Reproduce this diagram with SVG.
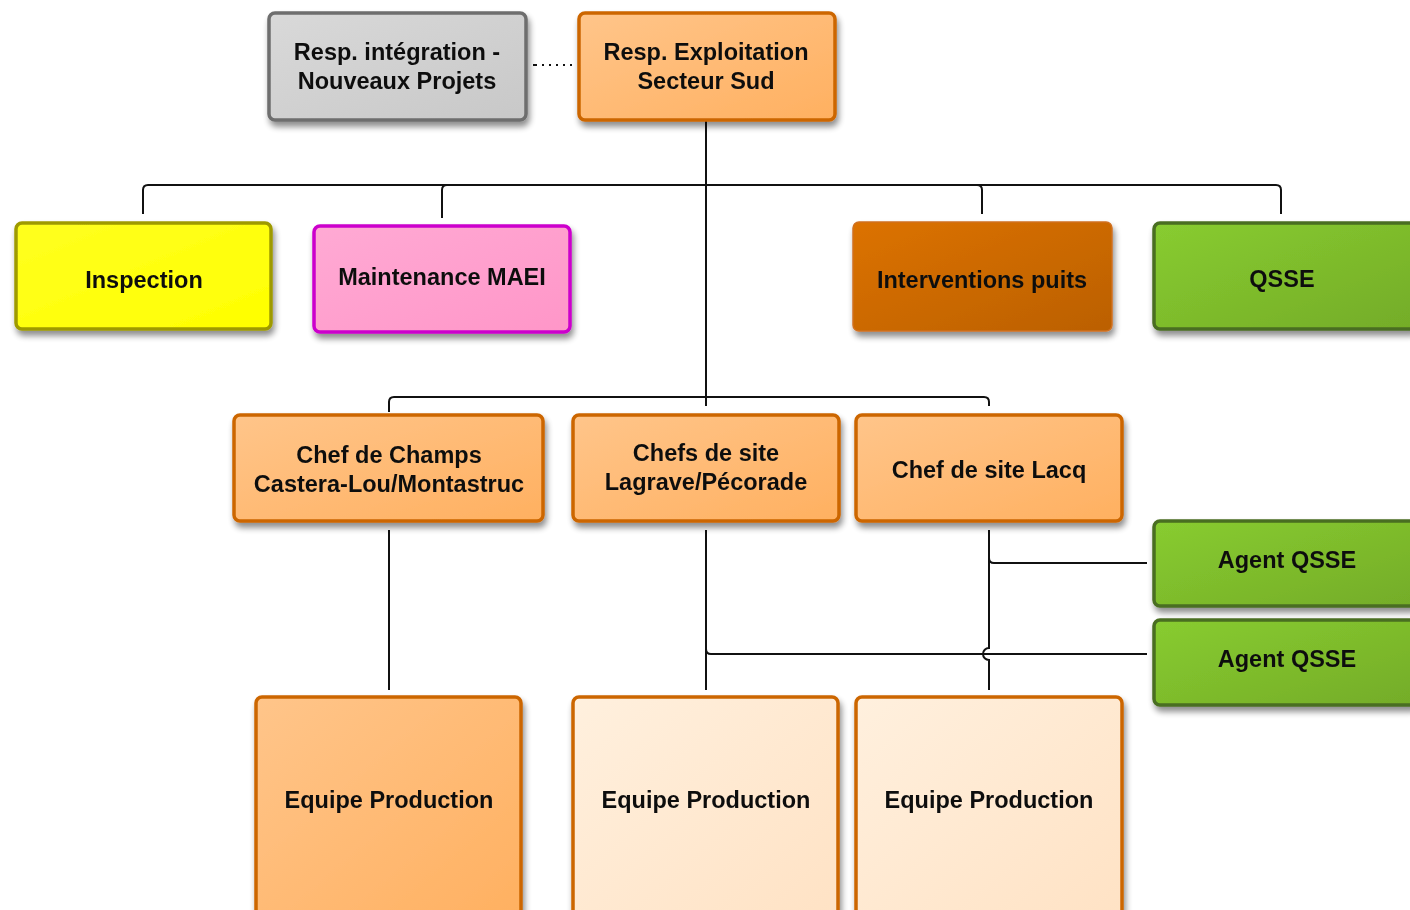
<svg xmlns="http://www.w3.org/2000/svg" width="1410" height="910" viewBox="0 0 1410 910">
<defs>
<filter id="sh" x="-10%" y="-10%" width="125%" height="130%">
<feGaussianBlur in="SourceAlpha" stdDeviation="3"/>
<feOffset dx="2" dy="5" result="b"/>
<feComponentTransfer><feFuncA type="linear" slope="0.45"/></feComponentTransfer>
<feMerge><feMergeNode/><feMergeNode in="SourceGraphic"/></feMerge>
</filter>
<linearGradient id="gOr" x1="0" y1="0" x2="1" y2="1"><stop offset="0" stop-color="#ffc58a"/><stop offset="1" stop-color="#ffb060"/></linearGradient>
<linearGradient id="gLt" x1="0" y1="0" x2="1" y2="1"><stop offset="0" stop-color="#fff0de"/><stop offset="1" stop-color="#ffe2c4"/></linearGradient>
<linearGradient id="gGr" x1="0" y1="0" x2="1" y2="1"><stop offset="0" stop-color="#d9d9d9"/><stop offset="1" stop-color="#c8c8c8"/></linearGradient>
<linearGradient id="gYe" x1="0" y1="0" x2="1" y2="1"><stop offset="0" stop-color="#ffff20"/><stop offset="1" stop-color="#ffff00"/></linearGradient>
<linearGradient id="gPk" x1="0" y1="0" x2="1" y2="1"><stop offset="0" stop-color="#ffaad4"/><stop offset="1" stop-color="#ff96c8"/></linearGradient>
<linearGradient id="gDo" x1="0" y1="0" x2="1" y2="1"><stop offset="0" stop-color="#dc7200"/><stop offset="1" stop-color="#bb6000"/></linearGradient>
<linearGradient id="gGn" x1="0" y1="0" x2="1" y2="1"><stop offset="0" stop-color="#88cc30"/><stop offset="1" stop-color="#74ac28"/></linearGradient>
</defs>
<style>
text{font-family:"Liberation Sans",Arial,sans-serif;font-weight:bold;font-size:23.5px;fill:#111;text-anchor:middle}
.n{filter:url(#sh)}
.or{fill:url(#gOr);stroke:#cc6600;stroke-width:3.5}
.lt{fill:url(#gLt);stroke:#cc6600;stroke-width:3.5}
.c{fill:none;stroke:#111;stroke-width:2}
</style>
<g id="connectors">
<path class="c" d="M533 65 H573" stroke-dasharray="4 5 2 5 2 5 2 5 2 5 2 5"/>
<path class="c" d="M706 121 V406"/>
<path class="c" d="M706 530 V690"/>
<path class="c" d="M143 214 V190 Q143 185 148 185 H1276 Q1281 185 1281 190 V214"/>
<path class="c" d="M442 218 V190 Q442 185 447 185"/>
<path class="c" d="M982 214 V190 Q982 185 977 185"/>
<path class="c" d="M389 412 V402 Q389 397 394 397 H984 Q989 397 989 402 V406"/>
<path class="c" d="M389 530 V690"/>
<path class="c" d="M989 530 V648 A6 6 0 0 0 989 660 V690"/>
<path class="c" d="M989 558 Q989 563 994 563 H1147"/>
<path class="c" d="M706 649 Q706 654 711 654 H1147"/>
</g>
<g id="n-integration" class="n"><rect x="269" y="13" width="257" height="107" rx="6" fill="url(#gGr)" stroke="#6e6e6e" stroke-width="3.5"/><text x="397" y="60">Resp. intégration -</text><text x="397" y="89">Nouveaux Projets</text></g>
<g id="n-exploitation" class="n"><rect class="or" x="579" y="13" width="256" height="107" rx="6"/><text x="706" y="60">Resp. Exploitation</text><text x="706" y="89">Secteur Sud</text></g>
<g id="n-inspection" class="n"><rect x="16" y="223" width="255" height="106" rx="6" fill="url(#gYe)" stroke="#9e9a00" stroke-width="3.5"/><text x="144" y="288">Inspection</text></g>
<g id="n-maintenance" class="n"><rect x="314" y="226" width="256" height="106" rx="6" fill="url(#gPk)" stroke="#cc00cc" stroke-width="3.5"/><text x="442" y="285">Maintenance MAEI</text></g>
<g id="n-interventions" class="n"><rect x="853" y="222" width="259" height="109" rx="6" fill="url(#gDo)" stroke="#d07020" stroke-width="1.5"/><text x="982" y="288">Interventions puits</text></g>
<g id="n-qsse" class="n"><rect x="1154" y="223" width="262" height="106" rx="6" fill="url(#gGn)" stroke="#4a6e20" stroke-width="3.5"/><text x="1282" y="287">QSSE</text></g>
<g id="n-champs" class="n"><rect class="or" x="234" y="415" width="309" height="106" rx="6"/><text x="389" y="463">Chef de Champs</text><text x="389" y="492">Castera-Lou/Montastruc</text></g>
<g id="n-lagrave" class="n"><rect class="or" x="573" y="415" width="266" height="106" rx="6"/><text x="706" y="461">Chefs de site</text><text x="706" y="490">Lagrave/Pécorade</text></g>
<g id="n-lacq" class="n"><rect class="or" x="856" y="415" width="266" height="106" rx="6"/><text x="989" y="478">Chef de site Lacq</text></g>
<g id="n-agent1" class="n"><rect x="1154" y="521" width="262" height="85" rx="6" fill="url(#gGn)" stroke="#4a6e20" stroke-width="3.5"/><text x="1287" y="568">Agent QSSE</text></g>
<g id="n-agent2" class="n"><rect x="1154" y="620" width="262" height="85" rx="6" fill="url(#gGn)" stroke="#4a6e20" stroke-width="3.5"/><text x="1287" y="667">Agent QSSE</text></g>
<g id="n-equipe1" class="n"><rect class="or" x="256" y="697" width="265" height="225" rx="6"/><text x="389" y="808">Equipe Production</text></g>
<g id="n-equipe2" class="n"><rect class="lt" x="573" y="697" width="265" height="225" rx="6"/><text x="706" y="808">Equipe Production</text></g>
<g id="n-equipe3" class="n"><rect class="lt" x="856" y="697" width="266" height="225" rx="6"/><text x="989" y="808">Equipe Production</text></g>
</svg>
